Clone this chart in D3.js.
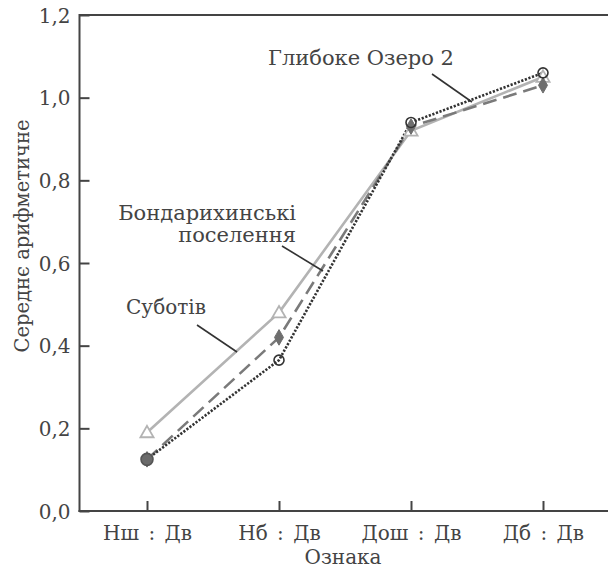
<!DOCTYPE html>
<html>
<head>
<meta charset="utf-8">
<script src="https://cdn.jsdelivr.net/npm/d3@7"></script>
<style>
  html, body { margin: 0; padding: 0; background: #fff; }
</style>
</head>
<body>
<svg id="chart" width="608" height="568"></svg>
<script>
// Ratio categories on the x axis
const categories = ["Нш : Дв", "Нб : Дв", "Дош : Дв", "Дб : Дв"];

// Arithmetic means per site
const subotiv   = [0.19, 0.48, 0.92, 1.05];
const bondaryk  = [0.125, 0.42, 0.93, 1.03];
const hlyboke   = [0.125, 0.365, 0.94, 1.06];

const yTicks = [0, 0.2, 0.4, 0.6, 0.8, 1.0, 1.2];
const yTickLabels = ["0,0", "0,2", "0,4", "0,6", "0,8", "1,0", "1,2"];

const fontFamily = "'DejaVu Serif', 'Liberation Serif', serif";
const textColor = "#444";

const svg = d3.select("#chart")
  .attr("font-family", fontFamily);
const plotLeft = 79.5, plotTop = 15, plotBottom = 511, plotRight = 609;

const x = d3.scalePoint().domain(categories).range([81, plotRight]).padding(0.5);
const y = d3.scaleLinear().domain([0, 1.2]).range([plotBottom, plotTop]);

const axisColor = "#444";

// Frame: top line (left and bottom come with the axes)
svg.append("line").attr("x1", plotLeft).attr("x2", 608).attr("y1", plotTop).attr("y2", plotTop)
  .attr("stroke", axisColor).attr("stroke-width", 2);

// Y axis with inward ticks
const yAxis = svg.append("g").attr("transform", `translate(${plotLeft},0)`)
  .call(d3.axisRight(y).tickValues(yTicks).tickSize(10).tickFormat(""));
yAxis.attr("font-family", fontFamily);
yAxis.select(".domain").remove();
yAxis.append("line").attr("x1", 0).attr("x2", 0).attr("y1", plotTop - 1).attr("y2", plotBottom + 1)
  .attr("stroke", axisColor).attr("stroke-width", 2);
yAxis.selectAll(".tick line").attr("stroke", axisColor).attr("stroke-width", 2);
yAxis.selectAll(".tick").append("text")
  .attr("x", -9).attr("dy", "0.35em").attr("text-anchor", "end")
  .attr("fill", textColor).attr("font-size", "20px")
  .text((d, i) => yTickLabels[i]);

// X axis with inward ticks
const xAxis = svg.append("g").attr("transform", `translate(0,${plotBottom})`)
  .call(d3.axisTop(x).tickSize(10).tickFormat(""));
xAxis.attr("font-family", fontFamily);
xAxis.select(".domain").remove();
xAxis.append("line").attr("x1", plotLeft - 1).attr("x2", 608).attr("y1", 0).attr("y2", 0)
  .attr("stroke", axisColor).attr("stroke-width", 2);
xAxis.selectAll(".tick line").attr("stroke", axisColor).attr("stroke-width", 2);
xAxis.selectAll(".tick").append("text")
  .attr("y", 29).attr("text-anchor", "middle")
  .attr("fill", textColor).attr("font-size", "20px")
  .attr("word-spacing", "3px")
  .text(d => d);

// Axis titles
svg.append("text").attr("x", 343).attr("y", 564).attr("text-anchor", "middle")
  .attr("fill", textColor).attr("font-size", "20px").text("Ознака");
svg.append("text").attr("transform", "translate(29,236) rotate(-90)")
  .attr("text-anchor", "middle").attr("fill", textColor).attr("font-size", "19.5px")
  .text("Середнє арифметичне");

const line = d3.line().x((d, i) => x(categories[i])).y(d => y(d));

// Суботів: solid light grey with open triangles
svg.append("path").datum(subotiv).attr("d", line)
  .attr("fill", "none").attr("stroke", "#b3b3b3").attr("stroke-width", 2.6);

// Бондарихинські поселення: dashed mid grey with diamonds
svg.append("path").datum(bondaryk).attr("d", line)
  .attr("fill", "none").attr("stroke", "#7a7a7a").attr("stroke-width", 2.6)
  .attr("stroke-dasharray", "14,7");

// Глибоке Озеро 2: dotted dark line with open circles
svg.append("path").datum(hlyboke).attr("d", line)
  .attr("fill", "none").attr("stroke", "#333").attr("stroke-width", 2.6)
  .attr("stroke-dasharray", "2.2,1.6");

const tri = d3.symbol().type(d3.symbolTriangle).size(75);
svg.selectAll(".tri").data(subotiv).join("path")
  .attr("transform", (d, i) => `translate(${x(categories[i])},${y(d) + 1})`)
  .attr("d", tri).attr("fill", "#fff").attr("stroke", "#b3b3b3").attr("stroke-width", 1.8);

const dia = d3.symbol().type(d3.symbolDiamond).size(70);
svg.selectAll(".dia").data(bondaryk).join("path")
  .attr("transform", (d, i) => `translate(${x(categories[i])},${y(d)})`)
  .attr("d", dia).attr("fill", "#6e6e6e").attr("stroke", "#6e6e6e").attr("stroke-width", 1);

svg.selectAll(".circ").data(hlyboke).join("circle")
  .attr("cx", (d, i) => x(categories[i])).attr("cy", d => y(d))
  .attr("r", (d, i) => i === 0 ? 6 : 5)
  .attr("fill", (d, i) => i === 0 ? "#6a6a6a" : "#fff")
  .attr("fill-opacity", (d, i) => i === 0 ? 1 : 0)
  .attr("stroke", (d, i) => i === 0 ? "#555" : "#333").attr("stroke-width", 1.6);

// Series labels with leader lines
const labelSize = "21px";
svg.append("text").attr("x", 361).attr("y", 65).attr("text-anchor", "middle")
  .attr("fill", textColor).attr("font-size", labelSize).text("Глибоке Озеро 2");
svg.append("line").attr("x1", 432).attr("y1", 74).attr("x2", 472).attr("y2", 102)
  .attr("stroke", "#333").attr("stroke-width", 1.6);

svg.append("text").attr("x", 296).attr("y", 220).attr("text-anchor", "end")
  .attr("fill", textColor).attr("font-size", labelSize).text("Бондарихинські");
svg.append("text").attr("x", 296).attr("y", 242).attr("text-anchor", "end")
  .attr("fill", textColor).attr("font-size", labelSize).text("поселення");
svg.append("line").attr("x1", 282).attr("y1", 246).attr("x2", 323).attr("y2", 271)
  .attr("stroke", "#333").attr("stroke-width", 1.6);

svg.append("text").attr("x", 166).attr("y", 314).attr("text-anchor", "middle")
  .attr("fill", textColor).attr("font-size", "20px").text("Суботів");
svg.append("line").attr("x1", 197).attr("y1", 325).attr("x2", 237).attr("y2", 352)
  .attr("stroke", "#333").attr("stroke-width", 1.6);
</script>
</body>
</html>
